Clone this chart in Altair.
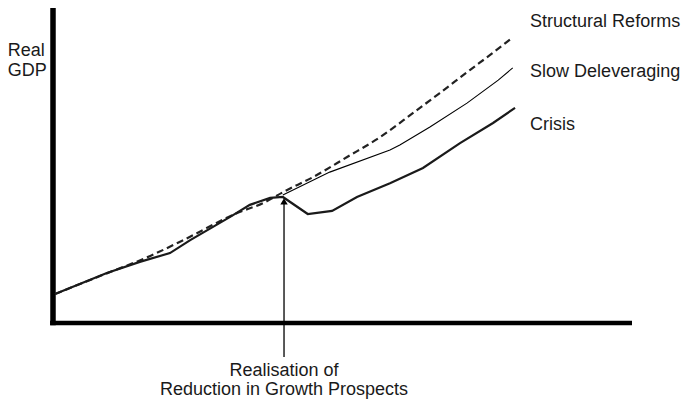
import altair as alt
import pandas as pd

# Scenario paths (time index 0-100, real GDP index 0-100)
reform_x = [0.35, 8.1, 16.8, 22.5, 31.8, 36.3, 40.1, 44.9, 50.8, 56.5, 62.2, 66.8, 72.0, 75.5, 79.3]
reform_y = [9.2, 14.9, 21.3, 26.3, 34.9, 38.1, 41.9, 46.3, 52.7, 59.0, 66.7, 73.0, 80.3, 85.1, 90.5]

slow_x = [39.7, 47.8, 58.2, 59.9, 65.1, 71.5, 76.9, 79.4]
slow_y = [40.6, 47.9, 54.9, 56.5, 62.2, 69.8, 77.1, 81.0]

crisis_x = [0.35, 9.3, 15.0, 20.2, 23.7, 30.6, 34.0, 37.5, 39.7, 44.0, 48.2, 52.5, 58.2, 63.9, 70.3, 76.0, 79.8]
crisis_y = [9.2, 15.9, 19.4, 22.2, 26.3, 33.7, 37.5, 39.7, 40.0, 34.6, 35.6, 40.0, 44.4, 49.2, 57.1, 63.5, 68.3]

series_labels = ["Structural Reforms", "Slow Deleveraging", "Crisis"]
axis_title = ["Real", "GDP"]
event_label = ["Realisation of", "Reduction in Growth Prospects"]
event_x = 39.9
event_top = 38.0

FONT = "Liberation Sans"
FS = 18
XS = alt.Scale(domain=[0, 100], nice=False, zero=False)
YS = alt.Scale(domain=[0, 100], nice=False, zero=False)

def xenc(f="x"):
    return alt.X(f"{f}:Q", scale=XS, axis=None)

def yenc(f="y"):
    return alt.Y(f"{f}:Q", scale=YS, axis=None)

reform = pd.DataFrame({"x": reform_x, "y": reform_y})
slow = pd.DataFrame({"x": slow_x, "y": slow_y})
crisis = pd.DataFrame({"x": crisis_x, "y": crisis_y})

# axes
xaxis = alt.Chart(pd.DataFrame({"x": [-0.5], "x2": [100], "y": [0]})).mark_rule(
    color="black", strokeWidth=4.5, strokeCap="butt"
).encode(x=xenc(), x2="x2:Q", y=yenc())
yaxis = alt.Chart(pd.DataFrame({"x": [0], "y": [-0.7], "y2": [100]})).mark_rule(
    color="black", strokeWidth=5.5, strokeCap="butt"
).encode(x=xenc(), y=yenc(), y2="y2:Q")

l_reform = alt.Chart(reform).mark_line(
    color="#222222", strokeWidth=2.2, strokeDash=[7, 4], strokeCap="butt", interpolate="monotone"
).encode(x=xenc(), y=yenc())
l_slow = alt.Chart(slow).mark_line(color="black", strokeWidth=1.1).encode(x=xenc(), y=yenc())
l_crisis = alt.Chart(crisis).mark_line(color="#1a1a1a", strokeWidth=2.2).encode(x=xenc(), y=yenc())

# event arrow
arrow = alt.Chart(pd.DataFrame({"x": [event_x], "y": [-10.8], "y2": [event_top]})).mark_rule(
    color="black", strokeWidth=1.3
).encode(x=xenc(), y=yenc(), y2="y2:Q")
head = alt.Chart(pd.DataFrame({"x": [event_x], "y": [38.6]})).mark_point(
    shape="triangle-up", filled=True, size=55, color="black", opacity=1
).encode(x=xenc(), y=yenc())

# labels
right_lab = pd.DataFrame({"t": series_labels, "x": [82.4] * 3, "y": [94.1, 78.2, 61.3]})
t_right = alt.Chart(right_lab).mark_text(
    align="left", baseline="alphabetic", font=FONT, fontSize=FS, color="#1a1a1a"
).encode(x=xenc(), y=yenc(), text="t:N")

left_lab = pd.DataFrame({"t": ["\n".join(axis_title)], "x": [-7.8], "y": [84.7]})
t_left = alt.Chart(left_lab).mark_text(
    align="left", baseline="alphabetic", font=FONT, fontSize=FS, lineHeight=20,
    lineBreak="\n", color="#1a1a1a"
).encode(x=xenc(), y=yenc(), text="t:N")

bot_lab = pd.DataFrame({"t": ["\n".join(event_label)], "x": [event_x], "y": [-16.8]})
t_bot = alt.Chart(bot_lab).mark_text(
    align="center", baseline="alphabetic", font=FONT, fontSize=FS, lineHeight=19,
    lineBreak="\n", color="#1a1a1a"
).encode(x=xenc(), y=yenc(), text="t:N")

chart = alt.layer(
    xaxis, yaxis, l_reform, l_slow, l_crisis, arrow, head, t_right, t_left, t_bot
).properties(
    width=579,
    height=315,
    background="white",
    autosize=alt.AutoSizeParams(type="none"),
    padding={"left": 45, "top": 0, "right": 50, "bottom": 76},
).configure_view(stroke=None)

chart.save("out.html", embed_options={"renderer": "svg", "actions": False})
